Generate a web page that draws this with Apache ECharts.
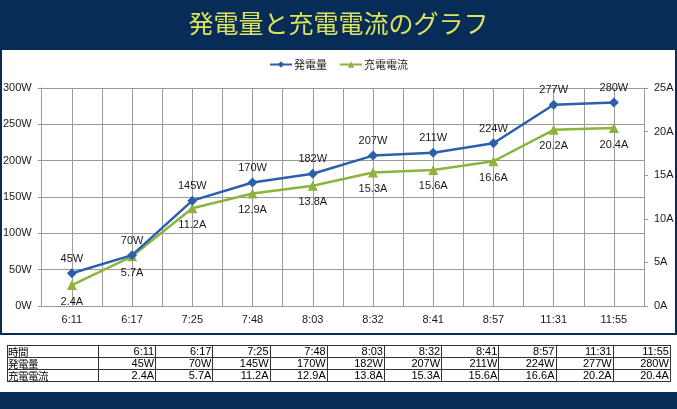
<!DOCTYPE html>
<html>
<head>
<meta charset="utf-8">
<script src="https://cdn.jsdelivr.net/npm/echarts@6/dist/echarts.min.js"></script>
<style>
  html, body { margin:0; padding:0; }
  body { width:677px; height:409px; background:#072c57; position:relative; overflow:hidden; }
  #panel { position:absolute; left:2px; top:50px; width:673px; height:283px; background:#fff; }
  #tpanel { position:absolute; left:0px; top:335px; width:677px; height:57px; background:#fff; }
  #chart { position:absolute; left:0; top:0; width:677px; height:409px; }
  #tbl { position:absolute; left:7px; top:345px; border-collapse:collapse; font-family:"Liberation Sans", Arial, sans-serif; font-size:11px; color:#000; table-layout:fixed; }
  #tbl td { border:1px solid #333; padding:0 1px 0 0; height:11px; line-height:11px; font-size:11px; text-align:right; white-space:nowrap; overflow:hidden; box-sizing:content-box; vertical-align:middle; }
  #tbl td.h { text-align:left; font-family:"Noto Sans CJK JP", sans-serif; font-size:10.5px; line-height:11px; padding:0; letter-spacing:-0.5px; }
  #tbl td span { display:block; height:11px; line-height:11px; overflow:hidden; }
</style>
</head>
<body>
<div id="panel"></div>
<div id="tpanel"></div>
<div id="chart"></div>
<table id="tbl"></table>
<script>
const titleText = '発電量と充電電流のグラフ';
const seriesNames = ['発電量', '充電電流'];
const rowHeaders = ['時間', '発電量', '充電電流'];
const times = ['6:11', '6:17', '7:25', '7:48', '8:03', '8:32', '8:41', '8:57', '11:31', '11:55'];
const watts = [45, 70, 145, 170, 182, 207, 211, 224, 277, 280];
const amps = [2.4, 5.7, 11.2, 12.9, 13.8, 15.3, 15.6, 16.6, 20.2, 20.4];

// table
const tbl = document.getElementById('tbl');
const colgroup = document.createElement('colgroup');
const c0 = document.createElement('col'); c0.style.width = '91px'; colgroup.appendChild(c0);
times.forEach(() => { const c = document.createElement('col'); c.style.width = '57.2px'; colgroup.appendChild(c); });
tbl.appendChild(colgroup);
const rows = [times, watts.map(v => v + 'W'), amps.map(v => v.toFixed(1) + 'A')];
rows.forEach((r, i) => {
  const tr = document.createElement('tr');
  const th = document.createElement('td'); th.className = 'h';
  const s0 = document.createElement('span'); s0.textContent = rowHeaders[i]; th.appendChild(s0); tr.appendChild(th);
  r.forEach(v => {
    const td = document.createElement('td');
    const s = document.createElement('span'); s.textContent = v; td.appendChild(s);
    tr.appendChild(td);
  });
  tbl.appendChild(tr);
});

const chart = echarts.init(document.getElementById('chart'), null, { renderer: 'canvas' });
const labelFont = { fontFamily: '"Liberation Sans", Arial, sans-serif', fontSize: 11, color: '#1a1a1a' };
const gridColor = '#9a9a9a';
chart.setOption({
  backgroundColor: 'transparent',
  animation: false,
  title: {
    text: titleText, left: 'center', top: 6,
    textStyle: { color: '#dce35c', fontSize: 25, fontWeight: 'normal', fontFamily: '"Noto Sans CJK JP", sans-serif' }
  },
  legend: {
    data: seriesNames, top: 54, left: 'center', itemWidth: 22, itemHeight: 8, itemGap: 12,
    textStyle: { fontFamily: '"Noto Sans CJK JP", sans-serif', fontSize: 11, color: '#222', padding: [0, 0, 0, -3] }
  },
  grid: { left: 40, right: 33, top: 88, bottom: 103, containLabel: false },
  xAxis: [
    {
      type: 'category', data: times, boundaryGap: true,
      axisLine: { lineStyle: { color: gridColor } },
      axisTick: { show: false },
      axisLabel: Object.assign({ margin: 8 }, labelFont),
      splitLine: { show: false }
    },
    {
      type: 'value', min: 0, max: times.length * 2, interval: 1, show: true,
      axisLine: { show: false }, axisTick: { show: false }, axisLabel: { show: false },
      splitLine: { show: true, lineStyle: { color: gridColor, width: 1 } }
    }
  ],
  yAxis: [
    {
      type: 'value', min: 0, max: 300, interval: 50,
      axisLine: { show: true, lineStyle: { color: gridColor } },
      axisTick: { show: true, length: 4, lineStyle: { color: gridColor } },
      axisLabel: Object.assign({ formatter: '{value}W', margin: 10 }, labelFont),
      splitLine: { show: true, lineStyle: { color: gridColor } }
    },
    {
      type: 'value', min: 0, max: 25, interval: 5, position: 'right',
      axisLine: { show: true, lineStyle: { color: gridColor } },
      axisTick: { show: true, length: 4, lineStyle: { color: gridColor } },
      axisLabel: Object.assign({ formatter: '{value}A', margin: 10 }, labelFont),
      splitLine: { show: false }
    }
  ],
  series: [
    {
      name: seriesNames[0], type: 'line', data: watts, xAxisIndex: 0, yAxisIndex: 0,
      symbol: 'diamond', symbolSize: 10, color: '#2c5fad',
      lineStyle: { width: 2.5, color: '#2c5fad' },
      itemStyle: { color: '#2c5fad' },
      label: Object.assign({ show: true, position: 'top', distance: 4, formatter: '{c}W' }, labelFont),
      z: 3
    },
    {
      name: seriesNames[1], type: 'line', data: amps, xAxisIndex: 0, yAxisIndex: 1,
      symbol: 'triangle', symbolSize: 10, color: '#8cb43c',
      lineStyle: { width: 2.5, color: '#8cb43c' },
      itemStyle: { color: '#8cb43c' },
      label: Object.assign({ show: true, position: 'bottom', distance: 6, formatter: p => p.value.toFixed(1) + 'A' }, labelFont),
      z: 2
    }
  ]
});
</script>
</body>
</html>
